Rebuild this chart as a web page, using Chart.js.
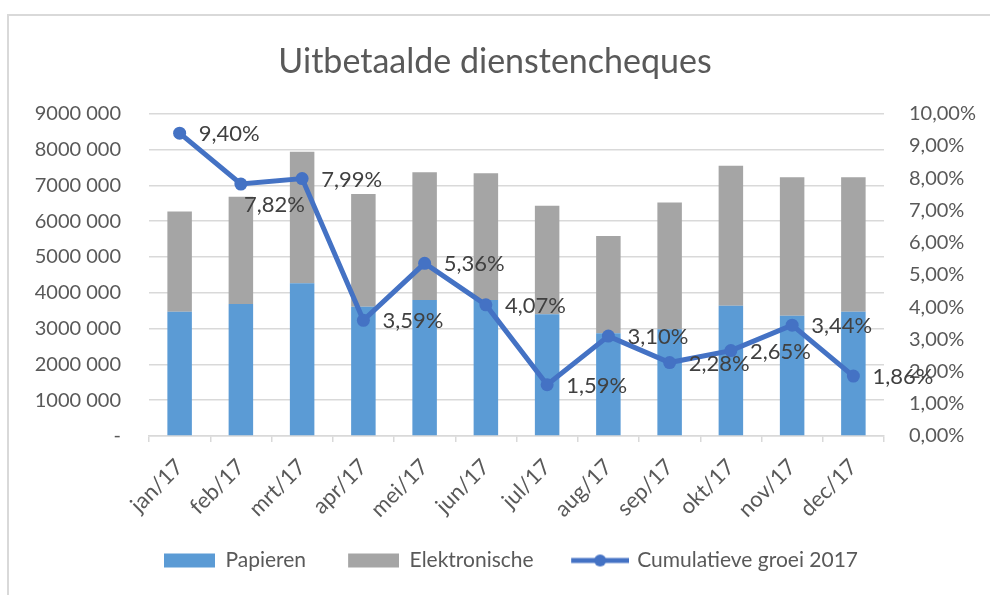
<!DOCTYPE html>
<html>
<head>
<meta charset="utf-8">
<script src="https://cdn.jsdelivr.net/npm/chart.js@4/dist/chart.umd.min.js"></script>
<style>
  html, body { margin: 0; padding: 0; background: #fff; }
  #frame { position: absolute; left: 7px; top: 14px; width: 1200px; height: 800px;
           border-left: 2px solid #d9d9d9; border-top: 2px solid #d9d9d9; }
  #chart { position: absolute; left: 0; top: 0; }
</style>
</head>
<body>
<div id="frame"></div>
<canvas id="chart" width="990" height="595"></canvas>
<script>
const months = ['jan/17', 'feb/17', 'mrt/17', 'apr/17', 'mei/17', 'jun/17',
                'jul/17', 'aug/17', 'sep/17', 'okt/17', 'nov/17', 'dec/17'];
const papieren = [3470000, 3690000, 4270000, 3610000, 3800000, 3800000,
                  3400000, 2870000, 2980000, 3640000, 3360000, 3470000];
const elektronische = [2800000, 2990000, 3670000, 3150000, 3570000, 3540000,
                       3030000, 2720000, 3540000, 3910000, 3870000, 3760000];
const groei = [9.40, 7.82, 7.99, 3.59, 5.36, 4.07, 1.59, 3.10, 2.28, 2.65, 3.44, 1.86];
const seriesNames = ['Papieren', 'Elektronische', 'Cumulatieve groei 2017'];

const BLUE = '#5b9bd5';
const GREY = '#a5a5a5';
const LINE = '#4472c4';
const TEXT = '#595959';
const GRID = '#d9d9d9';

Chart.defaults.font.family = 'Lato';
Chart.defaults.color = TEXT;

const pct = v => v.toFixed(2).replace('.', ',') + '%';

// legend swatches (extra room on the left gives the gap between items)
function swatch(kind, color) {
  const c = document.createElement('canvas');
  const w = kind === 'line' ? 88 : 83;
  c.width = w; c.height = 16;
  const g = c.getContext('2d');
  if (kind === 'line') {
    g.strokeStyle = color; g.lineWidth = 5;
    g.beginPath(); g.moveTo(30, 8); g.lineTo(w, 8); g.stroke();
    g.fillStyle = color;
    g.beginPath(); g.arc(30 + (w - 30) / 2, 8, 6, 0, Math.PI * 2); g.fill();
  } else {
    g.fillStyle = color;
    g.fillRect(32, 1, 51, 14);
  }
  return c;
}

const labelPlugin = {
  id: 'groeiLabels',
  afterDatasetsDraw(chart) {
    const meta = chart.getDatasetMeta(2);
    const ctx = chart.ctx;
    ctx.save();
    ctx.font = '22px Lato';
    ctx.fillStyle = '#404040';
    ctx.textBaseline = 'middle';
    ctx.textAlign = 'left';
    meta.data.forEach((pt, i) => {
      let dx = 19, dy = 1;
      if (i === 1) { dx = 3; dy = 21; }
      ctx.fillText(pct(groei[i]), pt.x + dx, pt.y + dy);
    });
    ctx.restore();
  }
};

new Chart(document.getElementById('chart').getContext('2d'), {
  type: 'bar',
  data: {
    labels: months,
    datasets: [
      { label: seriesNames[0], data: papieren, backgroundColor: BLUE, yAxisID: 'y',
        barPercentage: 0.4, categoryPercentage: 1, order: 1 },
      { label: seriesNames[1], data: elektronische, backgroundColor: GREY, yAxisID: 'y',
        barPercentage: 0.4, categoryPercentage: 1, order: 1 },
      { type: 'line', label: seriesNames[2], data: groei, yAxisID: 'y1',
        borderColor: LINE, backgroundColor: LINE, borderWidth: 5,
        pointRadius: 6.5, pointBackgroundColor: LINE, pointBorderWidth: 0,
        tension: 0, order: 0 }
    ]
  },
  options: {
    responsive: false,
    animation: false,
    devicePixelRatio: 1,
    layout: { padding: { left: 0, right: 0, top: 0, bottom: 14 } },
    plugins: {
      tooltip: { enabled: false },
      title: {
        display: true,
        text: 'Uitbetaalde dienstencheques',
        color: TEXT,
        font: { size: 34, weight: 'normal' },
        padding: { top: 42, bottom: 31 }
      },
      legend: {
        position: 'bottom',
        labels: {
          usePointStyle: true,
          pointStyleWidth: 83,
          boxHeight: 16,
          padding: 10,
          color: TEXT,
          font: { size: 21 },
          generateLabels: () => [
            { text: seriesNames[0], pointStyle: swatch('bar', BLUE), fontColor: TEXT, datasetIndex: 0, lineWidth: 0 },
            { text: seriesNames[1], pointStyle: swatch('bar', GREY), fontColor: TEXT, datasetIndex: 1, lineWidth: 0 },
            { text: seriesNames[2], pointStyle: swatch('line', LINE), fontColor: TEXT, datasetIndex: 2, lineWidth: 0 }
          ]
        }
      }
    },
    scales: {
      x: {
        stacked: true,
        offset: true,
        grid: { display: true, drawOnChartArea: false, offset: true, color: GRID, lineWidth: 1.5, tickLength: 6 },
        border: { color: GRID, width: 1.5 },
        ticks: { minRotation: 45, maxRotation: 45, font: { size: 22 }, color: TEXT, padding: 12 },
        afterFit: s => { s.height = 104; }
      },
      y: {
        stacked: true,
        position: 'left',
        min: 0, max: 9000000,
        ticks: {
          stepSize: 1000000, font: { size: 20 }, color: TEXT, padding: 28,
          callback: v => v === 0 ? '-' : String(v).slice(0, -3) + ' ' + String(v).slice(-3)
        },
        grid: { color: GRID, lineWidth: 1.5, drawTicks: false },
        border: { display: false },
        afterFit: s => { s.width = 149; }
      },
      y1: {
        position: 'right',
        min: 0, max: 10,
        ticks: { stepSize: 1, font: { size: 20 }, color: TEXT, padding: 25, callback: v => pct(v) },
        grid: { display: false, drawTicks: false },
        border: { display: false },
        afterFit: s => { s.width = 106; }
      }
    }
  },
  plugins: [labelPlugin]
});
</script>
</body>
</html>
